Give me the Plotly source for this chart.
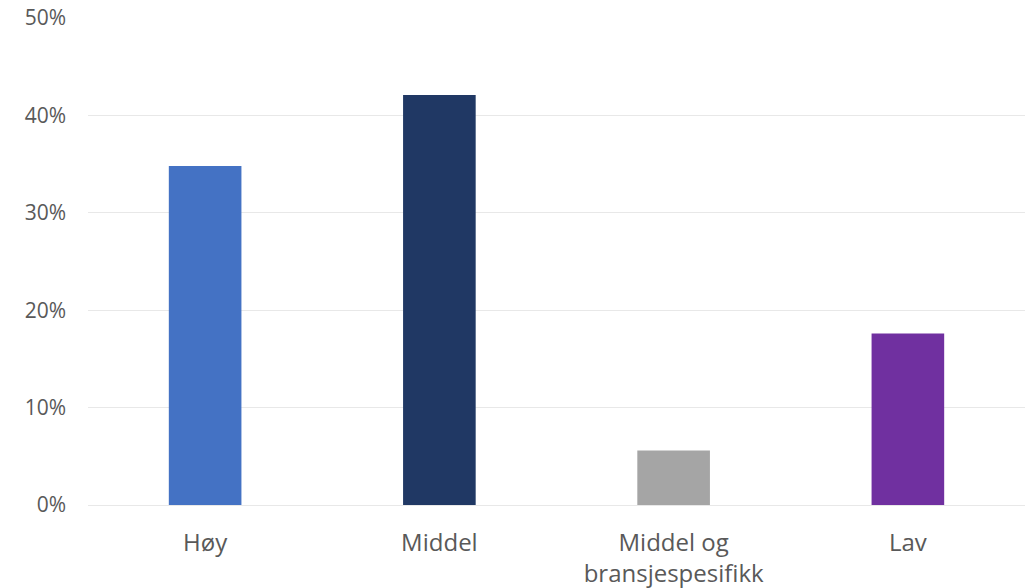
import plotly.graph_objects as go

categories = ["Høy", "Middel", "Middel og<br>bransjespesifikk", "Lav"]
values = [0.348, 0.421, 0.056, 0.176]
colors = ["#4472C4", "#203864", "#A5A5A5", "#7030A0"]
y_ticks = [0, 0.1, 0.2, 0.3, 0.4, 0.5]
y_tick_labels = ["0%", "10%", "20%", "30%", "40%", "50%"]

fig = go.Figure(
    go.Bar(
        x=categories,
        y=values,
        marker=dict(color=colors, line=dict(width=0)),
        width=0.31,
        hoverinfo="skip",
    )
)

font_family = "Open Sans, Segoe UI, sans-serif"
fig.update_layout(
    width=1028,
    height=588,
    margin=dict(l=88, r=3, t=18, b=83),
    paper_bgcolor="white",
    plot_bgcolor="white",
    showlegend=False,
    font=dict(family=font_family, size=21, color="#595959"),
)
fig.update_yaxes(
    range=[0, 0.5],
    tickvals=y_ticks,
    ticktext=y_tick_labels,
    showgrid=True,
    gridcolor="#E8E8E8",
    gridwidth=1,
    zeroline=True,
    zerolinecolor="#E8E8E8",
    zerolinewidth=1,
    showline=False,
    ticks="",
    ticklabelstandoff=21,
    tickfont=dict(size=21, color="#595959"),
    automargin=False,
)
fig.update_xaxes(
    showgrid=False,
    showline=False,
    ticks="",
    ticklabelstandoff=21,
    tickfont=dict(size=24, color="#595959"),
    automargin=False,
)

fig.write_html("out.html")
